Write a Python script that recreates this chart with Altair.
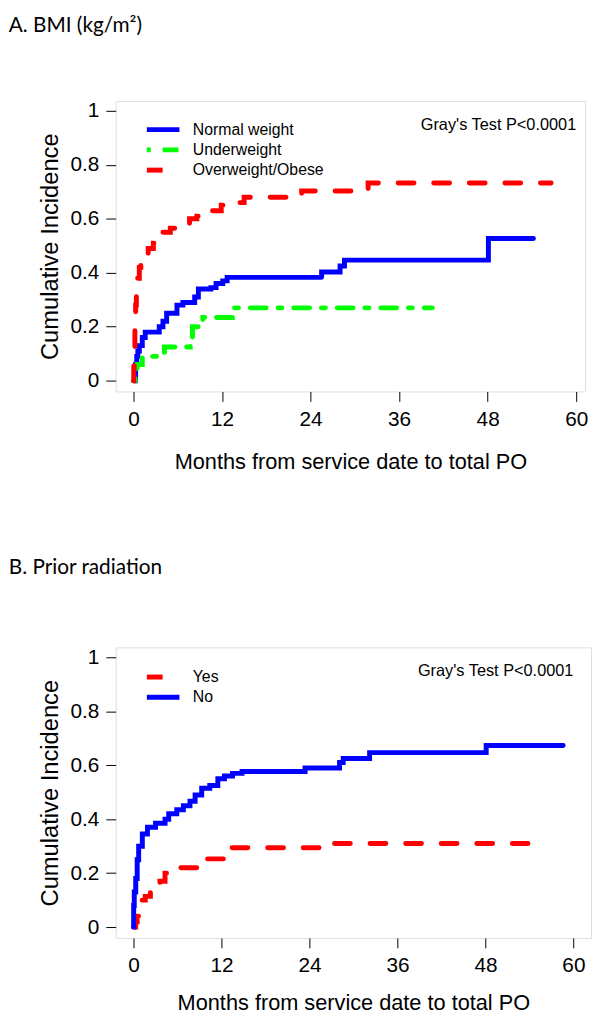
import altair as alt
import pandas as pd

# ---------------- Panel A: BMI ----------------
normal_t = [0, 0.25, 0.3, 0.45, 0.6, 0.8, 1.2, 1.6, 3.5, 4.0, 4.5, 5.9, 6.7, 8.3, 8.8, 10.5, 11.2, 12.1, 12.7, 25.5, 28.0, 28.6, 48.1, 54.2]
normal_v = [0, 0.02, 0.06, 0.09, 0.11, 0.13, 0.16, 0.18, 0.20, 0.22, 0.25, 0.28, 0.29, 0.31, 0.34, 0.345, 0.36, 0.37, 0.383, 0.403, 0.425, 0.447, 0.527, 0.527]

under_t = [0, 0.2, 0.5, 1.2, 4.2, 7.7, 8.0, 9.4, 13.4, 40.5]
under_v = [0, 0.03, 0.06, 0.09, 0.125, 0.16, 0.20, 0.234, 0.27, 0.27]

over_t = [0, 0.05, 0.1, 0.2, 0.3, 0.4, 0.5, 0.8, 1.0, 1.5, 2.0, 2.7, 3.9, 5.0, 7.6, 8.6, 10.7, 11.9, 13.9, 15.0, 22.8, 31.8, 56.6]
over_v = [0, 0.05, 0.12, 0.20, 0.28, 0.35, 0.38, 0.42, 0.44, 0.47, 0.49, 0.51, 0.55, 0.565, 0.60, 0.61, 0.63, 0.65, 0.66, 0.68, 0.703, 0.733, 0.733]

groups_a = ["Normal weight", "Underweight", "Overweight/Obese"]
colors_a = ["#0000FF", "#00FF00", "#FF0000"]
dashes_a = [[1, 0], [4, 12, 16, 12], [16, 20]]

# ---------------- Panel B: Prior radiation ----------------
yes_t = [0, 0.3, 0.5, 0.9, 1.6, 2.3, 3.6, 4.3, 6.0, 9.2, 12.8, 26.0, 53.8]
yes_v = [0, 0.02, 0.04, 0.10, 0.114, 0.13, 0.17, 0.20, 0.22, 0.253, 0.294, 0.31, 0.31]

no_t = [0, 0.02, 0.1, 0.3, 0.5, 0.7, 1.2, 1.9, 3.0, 4.3, 4.8, 5.9, 6.8, 7.7, 8.4, 9.3, 10.4, 11.5, 12.4, 13.5, 14.8, 23.4, 28.1, 28.6, 32.2, 48.1, 58.6]
no_v = [0, 0.08, 0.13, 0.18, 0.25, 0.30, 0.345, 0.37, 0.385, 0.40, 0.42, 0.435, 0.45, 0.467, 0.49, 0.515, 0.525, 0.55, 0.56, 0.57, 0.577, 0.59, 0.61, 0.625, 0.647, 0.673, 0.673]

groups_b = ["Yes", "No"]
colors_b = ["#FF0000", "#0000FF"]
dashes_b = [[16, 20], [1, 0]]

x_ticks = [0, 12, 24, 36, 48, 60]
y_ticks = [0, 0.2, 0.4, 0.6, 0.8, 1]
gray_text = "Gray's Test P<0.0001"
x_title = "Months from service date to total PO"
y_title = "Cumulative Incidence"


def frame(ts, vs, names):
    rows = []
    for t, v, n in zip(ts, vs, names):
        for a, b in zip(t, v):
            rows.append({"t": a, "v": b, "g": n})
    return pd.DataFrame(rows)


df_a = frame([normal_t, under_t, over_t], [normal_v, under_v, over_v], groups_a)
df_b = frame([yes_t, no_t], [yes_v, no_v], groups_b)

FONT = "Liberation Sans"


def panel(df, groups, colors, dashes, title, xdom, width, legend_y, title_offset, xtitle_pad):
    xax = alt.Axis(values=x_ticks, title=x_title, grid=False, domain=False,
                   tickSize=10, tickColor="black", tickWidth=1,
                   labelFontSize=21, titleFontSize=22, labelFont=FONT, titleFont=FONT,
                   labelColor="black", titleColor="black", titleFontWeight="normal",
                   labelPadding=7, titlePadding=xtitle_pad, labelFlush=False, labelOverlap=False)
    yax = alt.Axis(values=y_ticks, title=y_title, format=".1~f", grid=False, domain=False,
                   tickSize=10, tickColor="black", tickWidth=1,
                   labelFontSize=21, titleFontSize=24, labelFont=FONT, titleFont=FONT,
                   labelColor="black", titleColor="black", titleFontWeight="normal",
                   labelPadding=7, titlePadding=8, labelFlush=False, labelOverlap=False)
    leg = alt.Legend(orient="none", legendX=40, legendY=legend_y, title=None,
                     symbolType="M-3,0H3", symbolSize=121, symbolStrokeWidth=5,
                     labelFontSize=16, labelFont=FONT, labelColor="black",
                     labelOffset=22, rowPadding=0.5, padding=0)
    x = alt.X("t:Q", scale=alt.Scale(domain=xdom, nice=False, zero=False), axis=xax)
    y = alt.Y("v:Q", scale=alt.Scale(domain=[-0.04, 1.037], nice=False, zero=False), axis=yax)
    lines = alt.Chart(df).mark_line(interpolate="step-after", strokeWidth=5, strokeCap="round").encode(
        x=x, y=y,
        color=alt.Color("g:N", scale=alt.Scale(domain=groups, range=colors), legend=leg),
        strokeDash=alt.StrokeDash("g:N", scale=alt.Scale(domain=groups, range=dashes), legend=leg),
    )
    txt = alt.Chart(pd.DataFrame({"label": [gray_text]})).mark_text(
        align="right", baseline="alphabetic", fontSize=16.5, font=FONT, color="black"
    ).encode(x=alt.datum(60), y=alt.datum(0.93), text="label:N")
    return alt.layer(lines, txt).properties(
        width=width, height=294,
        title=alt.TitleParams(title, anchor="start", frame="bounds", font="Lato", fontSize=21,
                              fontWeight="normal", color="black", offset=title_offset, dx=-30),
    )


top = panel(df_a, groups_a, colors_a, dashes_a, "A. BMI (kg/m²)", [-2.4, 61.2], 475, 21, 65, 23)
bottom = panel(df_b, groups_b, colors_b, dashes_b, "B. Prior radiation", [-2.43, 62.4], 481, 22, 69, 17)

chart = alt.vconcat(top, bottom, spacing=84).resolve_scale(color="independent", strokeDash="independent").properties(
    padding={"left": 0, "top": 0, "right": 0, "bottom": 0}
).configure_view(stroke="#444444", strokeWidth=1.5).configure(background="white")

chart.save("out.html", embed_options={"renderer": "svg", "actions": False})
